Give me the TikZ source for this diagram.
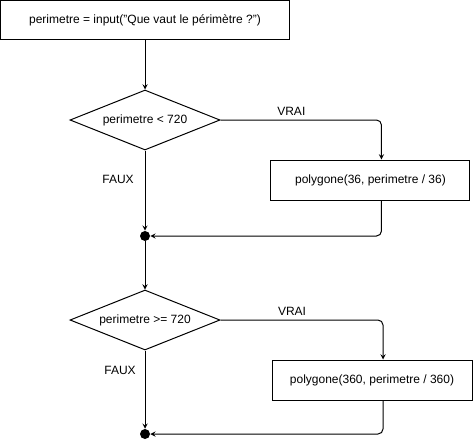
\documentclass[tikz,border=0pt]{standalone}
\usepackage{fontspec}
\setmainfont{Liberation Sans}
\usepackage{tikz}
\usetikzlibrary{shapes.geometric,positioning}
\tikzstyle{process} = [rectangle, minimum width=149.25pt, minimum height=30pt, text centered, draw=black, line width=0.75pt]
\tikzstyle{decision} = [diamond, aspect=2.5, inner sep=0pt, minimum width=112.5pt, minimum height=45pt, text centered, draw=black, line width=0.75pt]
\tikzstyle{junction} = [circle, fill=black, inner sep=0pt, minimum size=7.5pt]
\tikzstyle{arrow} = [line width=0.75pt,->,>=stealth, rounded corners=3.75pt]
\tikzstyle{branch} = [inner sep=1pt]

\begin{document}
\begin{tikzpicture}[node distance=75pt, font=\fontsize{9pt}{11pt}\selectfont]
    \useasboundingbox (0,0) rectangle (354.75pt,-332.25pt);
    \node (in) [process, minimum width=216.75pt, minimum height=29.25pt] at (108.75pt,-15pt) {perimetre = input("Que vaut le périmètre ?")};
    \node (test1) [decision, below of=in] {perimetre < 720};
    \node (poly1) [process, node distance=45pt, below of=test1, xshift=169.1pt] {polygone(36, perimetre / 36)};
    \node (join1) [junction, node distance=87pt, below of=test1] {};
    \node (test2) [decision, node distance=63pt, below of=join1] {perimetre >= 720};
    \node (poly2) [process, node distance=45pt, below of=test2, xshift=170.25pt, minimum width=150pt] {polygone(360, perimetre / 360)};
    \node (join2) [junction, node distance=85.5pt, below of=test2] {};
    \draw [arrow] (in) -- (test1);
    \draw [arrow] (test1.east) -| ([xshift=8.25pt]poly1.north) node [branch, pos=0.22, yshift=6.75pt] {VRAI};
    \draw [arrow] ([xshift=8.25pt]poly1.south) |- (join1);
    \draw [arrow] (test1) -- (join1) node [branch, pos=0.36, xshift=-20.25pt] {FAUX};
    \draw [arrow] (join1) -- (test2);
    \draw [arrow] (test2.east) -| ([xshift=8.25pt]poly2.north) node [branch, pos=0.22, yshift=6.75pt] {VRAI};
    \draw [arrow] ([xshift=8.25pt]poly2.south) |- (join2);
    \draw [arrow] (test2) -- (join2) node [branch, pos=0.25, xshift=-18.75pt] {FAUX};
\end{tikzpicture}
\end{document}
